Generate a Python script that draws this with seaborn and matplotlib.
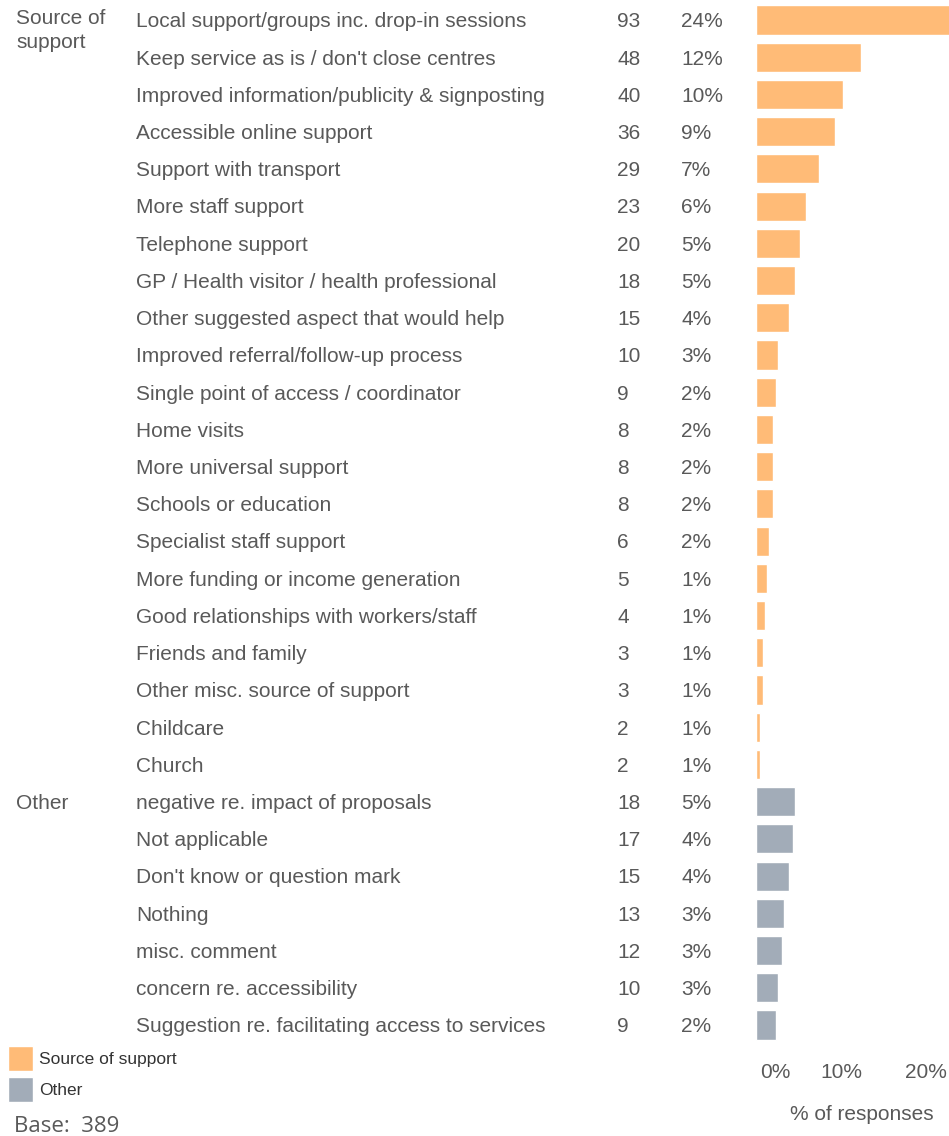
import matplotlib
matplotlib.use("Agg")
import matplotlib.pyplot as plt
import matplotlib.transforms as mtransforms
from matplotlib.patches import Patch
import seaborn as sns
import pandas as pd

# data
BASE = 389
labels = [
    "Local support/groups inc. drop-in sessions",
    "Keep service as is / don't close centres",
    "Improved information/publicity & signposting",
    "Accessible online support",
    "Support with transport",
    "More staff support",
    "Telephone support",
    "GP / Health visitor / health professional",
    "Other suggested aspect that would help",
    "Improved referral/follow-up process",
    "Single point of access / coordinator",
    "Home visits",
    "More universal support",
    "Schools or education",
    "Specialist staff support",
    "More funding or income generation",
    "Good relationships with workers/staff",
    "Friends and family",
    "Other misc. source of support",
    "Childcare",
    "Church",
    "negative re. impact of proposals",
    "Not applicable",
    "Don't know or question mark",
    "Nothing",
    "misc. comment",
    "concern re. accessibility",
    "Suggestion re. facilitating access to services",
]
counts = [93, 48, 40, 36, 29, 23, 20, 18, 15, 10, 9, 8, 8, 8, 6, 5, 4, 3, 3, 2, 2,
          18, 17, 15, 13, 12, 10, 9]
pct_labels = ["24%", "12%", "10%", "9%", "7%", "6%", "5%", "5%", "4%", "3%", "2%",
              "2%", "2%", "2%", "2%", "1%", "1%", "1%", "1%", "1%", "1%",
              "5%", "4%", "4%", "3%", "3%", "3%", "2%"]
groups = ["Source of support"] * 21 + ["Other"] * 7
group_names = ["Source of support", "Other"]
xticks = [0, 10, 20]

ORANGE = "#FFBB77"
GREY = "#A2ACB8"
TXT = "#595959"
FS = 15

df = pd.DataFrame({"label": labels, "count": counts, "group": groups})
df["pct"] = df["count"] / BASE * 100

sns.set_theme(style="white")
plt.rcParams["font.family"] = ["Liberation Sans", "DejaVu Sans"]

fig = plt.figure(figsize=(9.49, 11.36), dpi=100)
W, H = 949, 1136
ax = fig.add_axes([756 / W, 1 - 1043.6 / H, (949 - 756) / W, (1043.6 - 1.4) / H])

sns.barplot(data=df, x="pct", y="label", hue="group", order=labels,
            hue_order=group_names, palette=[ORANGE, GREY], dodge=False,
            width=0.78, ax=ax, legend=False, saturation=1)

ax.set_xlim(0, 22.7)
ax.set_ylim(len(labels) - 0.5, -0.5)
ax.set_xticks(xticks)
ax.set_xticklabels([f"{t}%" for t in xticks], color=TXT, fontsize=FS)
ax.tick_params(axis="x", length=0, pad=14)
# the 0% label sits a bit right of the axis start in the reference
first = ax.get_xticklabels()[0]
first.set_transform(first.get_transform() +
                    mtransforms.ScaledTranslation(19 / 100, 0, fig.dpi_scale_trans))
ax.set_yticks([])
ax.set_ylabel("")
ax.set_xlabel("")
for s in ax.spines.values():
    s.set_visible(False)

# text columns in figure x, data y
tr = mtransforms.blended_transform_factory(fig.transFigure, ax.transData)
dy = 0.05
for i, (lab, c, p) in enumerate(zip(labels, counts, pct_labels)):
    ax.text(136 / W, i + dy, lab, transform=tr, ha="left", va="center",
            fontsize=FS, color=TXT, clip_on=False)
    ax.text(617 / W, i + dy, str(c), transform=tr, ha="left", va="center",
            fontsize=FS, color=TXT, clip_on=False)
    ax.text(681 / W, i + dy, p, transform=tr, ha="left", va="center",
            fontsize=FS, color=TXT, clip_on=False)

ax.text(16 / W, -0.3, "Source of\nsupport", transform=tr, ha="left", va="top",
        fontsize=FS, color=TXT, linespacing=1.35, clip_on=False)
ax.text(16 / W, 21 + dy, "Other", transform=tr, ha="left", va="center",
        fontsize=FS, color=TXT, clip_on=False)

fig.text(862 / W, 1 - 1115 / H, "% of responses", ha="center", va="center",
         fontsize=FS, color=TXT)

handles = [Patch(facecolor=ORANGE, label=group_names[0]),
           Patch(facecolor=GREY, label=group_names[1])]
fig.legend(handles=handles, loc="upper left", bbox_to_anchor=(-8 / W, 1 - 1030 / H),
           frameon=False, fontsize=12.5, handlelength=1.45, handleheight=1.9,
           handletextpad=0.35, labelspacing=0.3, labelcolor="#333333",
           borderaxespad=0.5)

fig.text(14 / W, 1 - 1126 / H, "Base:  389", ha="left", va="center",
         fontsize=16, color=TXT, family=["Open Sans", "DejaVu Sans"])

fig.savefig("out.png", dpi=100)
